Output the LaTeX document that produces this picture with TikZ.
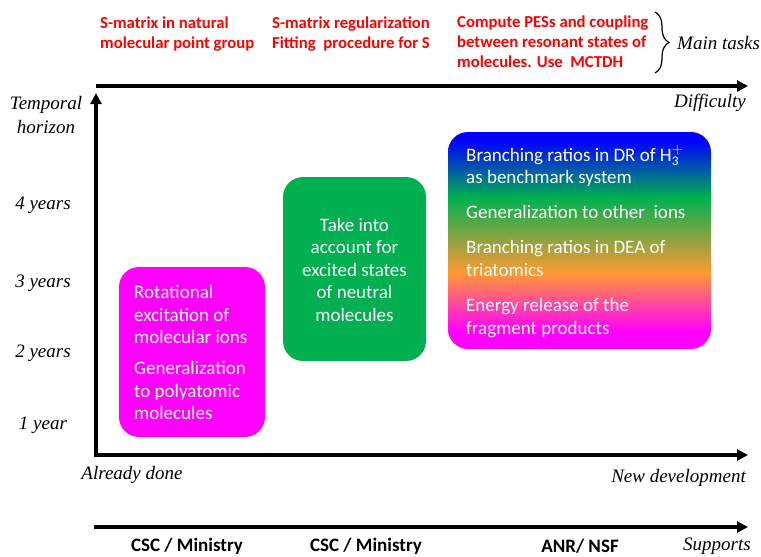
\documentclass[tikz,border=0pt]{standalone}
\usepackage{fontspec}
\setmainfont{Carlito}
\newfontfamily\tnr{Liberation Serif}
\usetikzlibrary{arrows.meta,decorations.pathreplacing}
\definecolor{mag}{HTML}{FF00FF}
\definecolor{grn}{HTML}{00B050}
\definecolor{blu}{HTML}{0000FF}
\definecolor{org}{HTML}{FF9933}
\definecolor{rd}{HTML}{FF0000}
\pgfdeclareverticalshading{tasks}{100bp}{color(0bp)=(mag); color(29bp)=(mag); color(42.5bp)=(org); color(60bp)=(grn); color(73bp)=(blu); color(100bp)=(blu)}
\tikzset{
  axisline/.style={line width=3.5pt, -{Triangle[length=11pt,width=11pt]}},
  boxshape/.style={rounded corners=20pt, draw=none, inner sep=0pt},
  boxtext/.style={text=white, inner sep=0pt, font=\fontsize{19}{22.5}\selectfont},
  redtext/.style={text=rd, inner sep=0pt, align=left, font=\fontsize{16.7}{20}\selectfont\bfseries},
  itlabel/.style={inner sep=0pt, font=\tnr\itshape\fontsize{19}{24}\selectfont},
  suplabel/.style={inner sep=0pt, font=\fontsize{19}{22}\selectfont\bfseries},
}
\begin{document}
\begin{tikzpicture}[x=1pt,y=-1pt]
\useasboundingbox (0,0) rectangle (761,557);
% axes
\coordinate (t0) at (96,86);
\coordinate (t1) at (748,86);
\coordinate (vtop) at (96,93);
\coordinate (o) at (96,455);
\coordinate (hend) at (748,455);
\coordinate (s0) at (94,527);
\coordinate (s1) at (748,527);
\draw[axisline] (t0) -- (t1);
\draw[line width=3.5pt, {Triangle[length=11pt,width=11pt]}-{Triangle[length=11pt,width=11pt]}] (vtop) -- (o) -- (hend);
\draw[axisline] (s0) -- (s1);
% boxes
\node[boxshape, fill=mag, minimum width=146pt, minimum height=170pt] (rotbox) at (192,352) {};
\node[boxshape, fill=grn, minimum width=143pt, minimum height=184pt] (neubox) at (354.5,269) {};
\node[boxshape, shading=tasks, minimum width=263pt, minimum height=217pt] (drbox) at (579.5,240.5) {};
\node[boxtext, align=left, anchor=west] (rottext) at (134,352.5) {Rotational\\excitation of\\molecular ions\\[8.5pt]Generalization\\to polyatomic\\molecules};
\node[boxtext, align=center] (neutext) at (354.5,269.5) {Take into\\account for\\excited states\\of neutral\\molecules};
\node[boxtext, align=left, anchor=west] (drtext) at (466,241.5) {Branching ratios in DR of H$_{\mathrm{3}}^{\mathrm{+}}$\\as benchmark system\\[12.5pt]Generalization to other\ \ ions\\[12.5pt]Branching ratios in DEA of\\triatomics\\[13pt]Energy release of the\\fragment products};
% red tasks
\node[redtext, anchor=west] (task1) at (100,34.5) {S-matrix in natural\\molecular point group};
\node[redtext, anchor=west] (task2) at (272,34.5) {S-matrix regularization\\Fitting\ \ procedure for S};
\node[redtext, anchor=west] (task3) at (457,41.5) {Compute PESs and coupling\\between resonant states of\\molecules. Use\ \ MCTDH};
% brace
\coordinate (b0) at (655,12);
\coordinate (b1) at (655,73);
\draw[decorate, decoration={brace, amplitude=14pt}, line width=1.2pt] (b0) -- (b1);
\node[itlabel, anchor=west] (maintasks) at (677,43) {Main tasks};
% italic labels
\node[itlabel, align=center] (temporal) at (46,115) {Temporal\\horizon};
\node[itlabel] (y4) at (43,205) {4 years};
\node[itlabel] (y3) at (43,283) {3 years};
\node[itlabel] (y2) at (43,353) {2 years};
\node[itlabel] (y1) at (43,425) {1 year};
\node[itlabel, anchor=east] (diff) at (746,103) {Difficulty};
\node[itlabel] (done) at (132,475) {Already done};
\node[itlabel, anchor=east] (newdev) at (746,478) {New development};
\node[itlabel] (supports) at (717,546.5) {Supports};
% supports
\node[suplabel] (sup1) at (187,546.5) {CSC / Ministry};
\node[suplabel] (sup2) at (366,546.5) {CSC / Ministry};
\node[suplabel] (sup3) at (580,546.5) {ANR/ NSF};
\end{tikzpicture}
\end{document}
